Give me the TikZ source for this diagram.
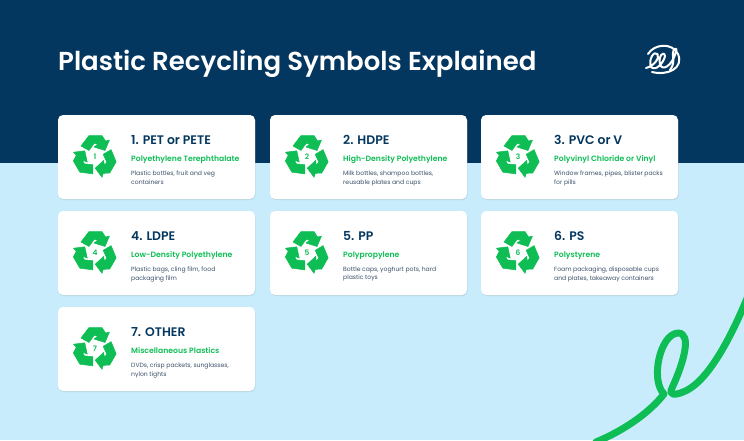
\documentclass[tikz,border=0pt]{standalone}
\usepackage{fontspec}
\setmainfont{Poppins}[BoldFont={Poppins SemiBold}]
\usepackage{tikz}
\usetikzlibrary{calc}
\usetikzlibrary{shadows}
\definecolor{nnavy}{RGB}{4,55,95}
\definecolor{lblue}{RGB}{201,236,252}
\definecolor{ggreen}{RGB}{14,190,85}
\definecolor{ggray}{RGB}{60,80,105}
\tikzset{
  cardbox/.style={fill=white,rounded corners=5pt,minimum width=197pt,minimum height=84pt,inner sep=0pt,drop shadow={opacity=0.22,shadow xshift=0.5pt,shadow yshift=-1pt}},
  headtxt/.style={anchor=base west,inner sep=0pt,text=nnavy,font=\fontsize{12.4}{12.4}\bfseries},
  subtxt/.style={anchor=base west,inner sep=0pt,text=ggreen,font=\fontsize{7.7}{7.7}\bfseries},
  bodytxt/.style={anchor=north west,inner sep=0pt,text=ggray,font=\fontsize{6.1}{8.2}\selectfont,align=left},
  digittxt/.style={inner sep=0pt,text=ggreen,font=\fontsize{7.5}{7.5}\bfseries},
  arrowpiece/.style={fill=ggreen,draw=ggreen,line width=0.5pt,line join=round}
}
% one bent arrow of the symbol
\newcommand{\bentarrow}[1]{
  \fill[arrowpiece,rotate=#1] (-14,-10.5) -- (-6,-21) -- (7,-21) -- (10.5,-15.5) -- (14.5,-16.5) -- (10,-6) -- (-1,-9.5) -- (3,-12.5) -- (-1,-13) -- (-6,-6) -- cycle;
}
% #1 x, #2 y, #3 number, #4 heading, #5 subtitle, #6 body
\newcommand{\recyclecard}[6]{
  \node[cardbox] (card#3) at (#1+98.5,#2+42) {};
  \begin{scope}[shift={(#1+37,#2+41.5)}]
    \bentarrow{0}
    \bentarrow{120}
    \bentarrow{240}
  \end{scope}
  \node[digittxt] (digit#3) at (#1+37,#2+41.5) {#3};
  \node[headtxt] (head#3) at (#1+73,#2+29) {#3. #4};
  \node[subtxt] (sub#3) at (#1+73,#2+46.5) {#5};
  \node[bodytxt] (body#3) at (#1+73,#2+56) {#6};
}
\begin{document}
\begin{tikzpicture}[line cap=round,line join=round,x=1pt,y=-1pt]
  \clip (0,0) rectangle (744,440);
  \fill[lblue] (0,0) rectangle (744,440);
  \fill[nnavy] (0,0) rectangle (744,163);
  \node[anchor=base west,inner sep=0pt,text=white,font=\fontsize{26}{26}\bfseries] (maintitle) at (58,70) {Plastic Recycling Symbols Explained};
  % logo
  \draw[white,line width=2pt] (648,54) .. controls (654,44) and (672,42) .. (678,54) .. controls (684,68) and (668,76) .. (652,72);
  \draw[white,line width=2pt] (646,68) .. controls (654,66) and (660,58) .. (657.5,54) .. controls (654,50) and (648,60) .. (651,67) .. controls (656,72) and (664,62) .. (665,56) .. controls (664,50) and (658,56) .. (660,64) .. controls (662,72) and (672,66) .. (676,52) .. controls (678,46) and (672,48) .. (673,56) .. controls (674,62) and (673,66) .. (670,70);
  % squiggle
  \draw[ggreen,line width=7pt] (596,442) .. controls (625,430) and (650,412) .. (664,394) .. controls (650,380) and (660,334) .. (678,333) .. controls (692,333) and (684,362) .. (672,388) .. controls (668,396) and (676,395) .. (683,392) .. controls (705,384) and (728,345) .. (748,296);
  \recyclecard{58}{115}{1}{PET or PETE}{Polyethylene Terephthalate}{Plastic bottles, fruit and veg\\containers}
  \recyclecard{270}{115}{2}{HDPE}{High-Density Polyethylene}{Milk bottles, shampoo bottles,\\reusable plates and cups}
  \recyclecard{481}{115}{3}{PVC or V}{Polyvinyl Chloride or Vinyl}{Window frames, pipes, blister packs\\for pills}
  \recyclecard{58}{211}{4}{LDPE}{Low-Density Polyethylene}{Plastic bags, cling film, food\\packaging film}
  \recyclecard{270}{211}{5}{PP}{Polypropylene}{Bottle caps, yoghurt pots, hard\\plastic toys}
  \recyclecard{481}{211}{6}{PS}{Polystyrene}{Foam packaging, disposable cups\\and plates, takeaway containers}
  \recyclecard{58}{307}{7}{OTHER}{Miscellaneous Plastics}{DVDs, crisp packets, sunglasses,\\nylon tights}
\end{tikzpicture}
\end{document}
